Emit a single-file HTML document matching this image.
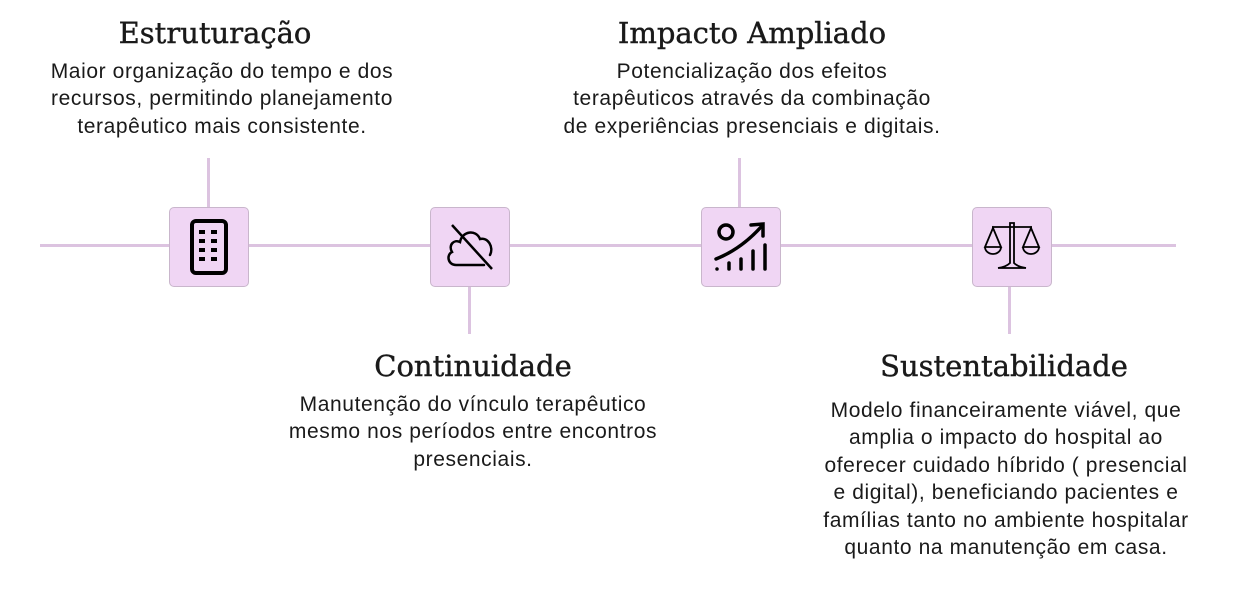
<!DOCTYPE html>
<html><head><meta charset="utf-8"><style>
body{margin:0;width:1240px;height:594px;background:#fff;position:relative;overflow:hidden;font-family:"Liberation Sans",sans-serif;color:#1a1a1a}
.t{position:absolute;font-family:"DejaVu Serif","Liberation Serif",serif;font-size:29px;text-align:center;white-space:nowrap;transform:translateX(-50%);line-height:34px;-webkit-text-stroke:0.4px #1a1a1a}
.b{position:absolute;font-size:21px;letter-spacing:0.6px;line-height:27.4px;text-align:center;white-space:nowrap;transform:translateX(-50%)}
.l{position:absolute;background:#dcc3e0}
.box{position:absolute;width:78px;height:78px;background:#f0d6f4;border:1px solid #c9b6cc;border-radius:5px;display:flex;align-items:center;justify-content:center}
</style></head><body>
<div class="l" style="left:40px;top:244px;width:1136px;height:3px"></div>
<div class="l" style="left:207px;top:158px;width:3px;height:50px"></div>
<div class="l" style="left:468px;top:286px;width:3px;height:48px"></div>
<div class="l" style="left:738px;top:158px;width:3px;height:50px"></div>
<div class="l" style="left:1008px;top:286px;width:3px;height:48px"></div>

<div class="box" style="left:169px;top:207px"><svg width="40" height="58" viewBox="0 0 40 58"><rect x="3" y="3" width="34" height="52" rx="4" fill="none" stroke="#000" stroke-width="4"/><g fill="#000"><rect x="10" y="12" width="6" height="4"/><rect x="22" y="12" width="6" height="4"/><rect x="10" y="21" width="6" height="4"/><rect x="22" y="21" width="6" height="4"/><rect x="10" y="30" width="6" height="4"/><rect x="22" y="30" width="6" height="4"/><rect x="10" y="39" width="6" height="4"/><rect x="22" y="39" width="6" height="4"/></g></svg></div>
<div class="box" style="left:430px;top:207px"><svg width="60" height="60" viewBox="0 0 60 60"><path d="M44 48 H16 C8 48 6 38 12 35 C8 28 14 22 20 25 C22 14 36 12 40 22 C48 20 54 30 50 38" fill="none" stroke="#000" stroke-width="2.5" stroke-linecap="round"/><line x1="12" y1="8" x2="52" y2="52" stroke="#000" stroke-width="2.5"/></svg></div>
<div class="box" style="left:701px;top:207px"><svg width="60" height="56" viewBox="0 0 60 56"><circle cx="15" cy="13" r="7" fill="none" stroke="#000" stroke-width="3.5"/><path d="M5 40 Q30 30 50 8" fill="none" stroke="#000" stroke-width="3.5" stroke-linecap="round"/><path d="M40 6 L52 5 L52 17" fill="none" stroke="#000" stroke-width="3.5" stroke-linecap="round"/><g stroke="#000" stroke-width="3.5" stroke-linecap="round"><line x1="6" y1="50" x2="6" y2="50"/><line x1="18" y1="44" x2="18" y2="50"/><line x1="30" y1="40" x2="30" y2="50"/><line x1="42" y1="32" x2="42" y2="50"/><line x1="54" y1="26" x2="54" y2="50"/></g></svg></div>
<div class="box" style="left:972px;top:207px"><svg width="60" height="56" viewBox="0 0 60 56"><g fill="none" stroke="#000" stroke-width="1.8"><line x1="10" y1="8" x2="50" y2="8"/><path d="M3 28 L11 9 L19 28 Z"/><path d="M3 28 A8 7 0 0 0 19 28"/><path d="M41 28 L49 9 L57 28 Z"/><path d="M41 28 A8 7 0 0 0 57 28"/><path d="M28 4 L28 44 Q24 48 16 49 L44 49 Q36 48 32 44 L32 4 Z"/></g></svg></div>

<div class="t" style="left:215px;top:16px">Estruturação</div>
<div class="b" style="left:222px;top:58px">Maior organização do tempo e dos<br>recursos, permitindo planejamento<br>terapêutico mais consistente.</div>
<div class="t" style="left:752px;top:16px">Impacto Ampliado</div>
<div class="b" style="left:752px;top:58px">Potencialização dos efeitos<br>terapêuticos através da combinação<br>de experiências presenciais e digitais.</div>
<div class="t" style="left:473px;top:349px">Continuidade</div>
<div class="b" style="left:473px;top:391px">Manutenção do vínculo terapêutico<br>mesmo nos períodos entre encontros<br>presenciais.</div>
<div class="t" style="left:1004px;top:349px">Sustentabilidade</div>
<div class="b" style="left:1006px;top:397px">Modelo financeiramente viável, que<br>amplia o impacto do hospital ao<br>oferecer cuidado híbrido ( presencial<br>e digital), beneficiando pacientes e<br>famílias tanto no ambiente hospitalar<br>quanto na manutenção em casa.</div>
</body></html>
